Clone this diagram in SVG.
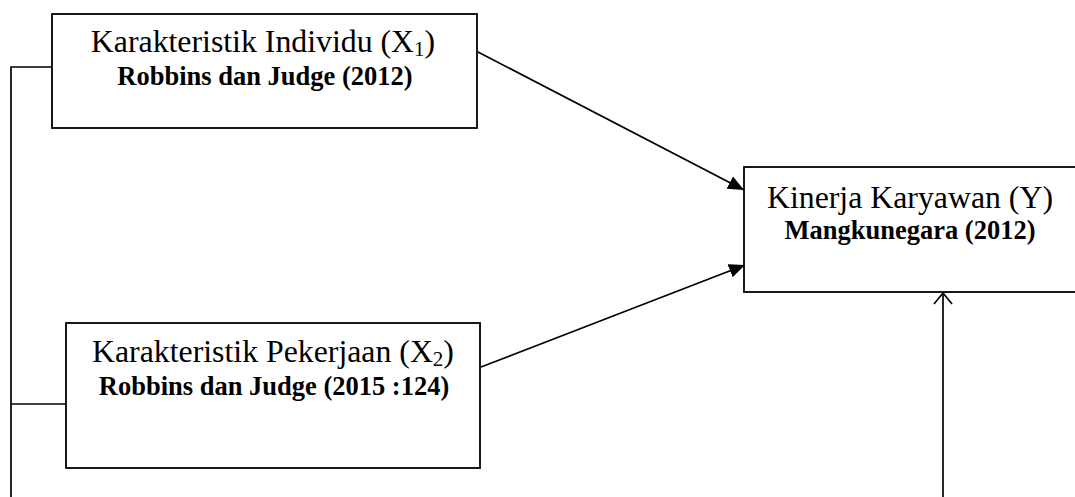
<svg xmlns="http://www.w3.org/2000/svg" width="1075" height="497" viewBox="0 0 1075 497">
<style>
.box{fill:#fff;stroke:#000;stroke-width:1.8}
.t{font-family:"Liberation Serif","Times New Roman",serif;font-size:31.8px;fill:#000;text-anchor:middle}
.b{font-family:"Liberation Serif","Times New Roman",serif;font-size:26.5px;font-weight:bold;fill:#000;text-anchor:middle}
.sub{font-size:21px}
.ln{fill:none;stroke:#000;stroke-width:1.7}
</style>
<defs>
<marker id="fa" markerUnits="userSpaceOnUse" markerWidth="20" markerHeight="16" refX="16" refY="7" orient="auto">
<path d="M0,0 L16,7 L0,14 Z" fill="#000"/>
</marker>
<marker id="oa" markerUnits="userSpaceOnUse" markerWidth="14" markerHeight="24" refX="12" refY="10" orient="auto">
<path d="M1,1 L12,10 L1,19" fill="none" stroke="#000" stroke-width="1.7"/>
</marker>
</defs>
<rect width="1075" height="497" fill="#fff"/>
<g id="connectors">
<path class="ln" d="M52,67 H11 V497"/>
<path class="ln" d="M66,404 H11"/>
<line class="ln" x1="478" y1="52" x2="744" y2="190" marker-end="url(#fa)"/>
<line class="ln" x1="481" y1="367" x2="745" y2="265" marker-end="url(#fa)"/>
<line class="ln" x1="943" y1="497" x2="943" y2="293" marker-end="url(#oa)"/>
</g>
<g id="node-x1">
<rect class="box" x="52" y="14" width="425" height="114"/>
<text class="t" x="263" y="52">Karakteristik Individu (X<tspan class="sub" dy="4">1</tspan><tspan dy="-4">)</tspan></text>
<text class="b" x="265" y="85">Robbins dan Judge (2012)</text>
</g>
<g id="node-x2">
<rect class="box" x="66" y="323" width="414" height="145"/>
<text class="t" x="273" y="362">Karakteristik Pekerjaan (X<tspan class="sub" dy="4">2</tspan><tspan dy="-4">)</tspan></text>
<text class="b" x="274" y="395">Robbins dan Judge (2015 :124)</text>
</g>
<g id="node-y">
<rect class="box" x="744" y="167" width="340" height="125"/>
<text class="t" x="910" y="208">Kinerja Karyawan (Y)</text>
<text class="b" x="910" y="239">Mangkunegara (2012)</text>
</g>
</svg>
